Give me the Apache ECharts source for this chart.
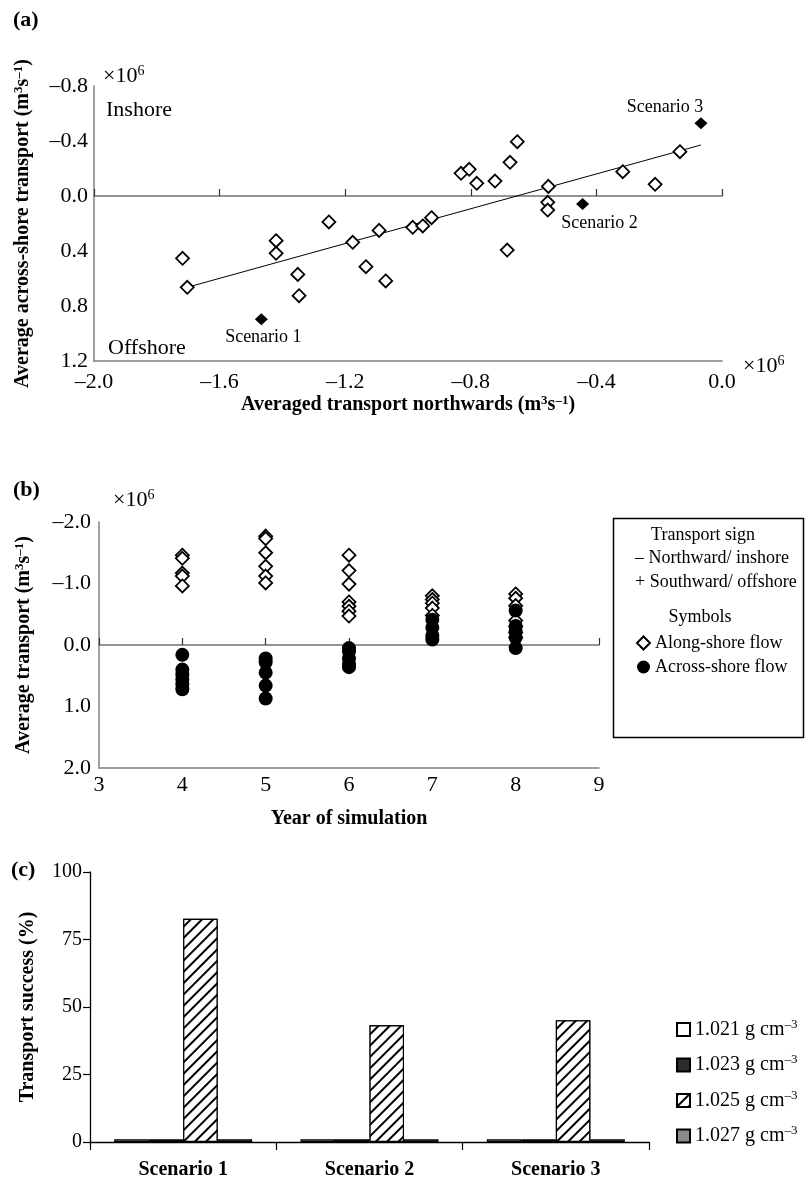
<!DOCTYPE html>
<html>
<head>
<meta charset="utf-8">
<script src="https://cdn.jsdelivr.net/npm/echarts@6/dist/echarts.min.js"></script>
<style>html,body{margin:0;padding:0;background:#fff;}#c{width:805px;height:1185px;}</style>
</head>
<body>
<div id="c"></div>
<script>
// ---------- Panel (a) data: [northward transport, across-shore transport] (x10^6 m3 s-1)
const panelAPoints = [
  [-1.718, 0.453], [-1.703, 0.664], [-1.420, 0.325], [-1.420, 0.417], [-1.351, 0.570],
  [-1.347, 0.725], [-1.252, 0.189], [-1.176, 0.337], [-1.134, 0.514], [-1.092, 0.250],
  [-1.071, 0.618], [-0.985, 0.228], [-0.953, 0.218], [-0.925, 0.158], [-0.831, -0.165],
  [-0.805, -0.194], [-0.781, -0.092], [-0.723, -0.109], [-0.684, 0.393], [-0.675, -0.245],
  [-0.652, -0.395], [-0.555, 0.046], [-0.555, 0.102], [-0.553, -0.070], [-0.316, -0.177],
  [-0.213, -0.085], [-0.134, -0.322]
];
const scenarioNames = ['Scenario 1', 'Scenario 2', 'Scenario 3'];
const scenarioPoints = [[-1.467, 0.897], [-0.444, 0.058], [-0.067, -0.529]];
const trendLine = [[-1.703, 0.664], [-0.067, -0.371]];

// ---------- Panel (b) data: average transport per simulation year (x10^6 m3 s-1)
const years = [4, 5, 6, 7, 8];
const alongShore = [
  [-1.46, -1.41, -1.17, -1.12, -0.96],
  [-1.77, -1.73, -1.50, -1.28, -1.12, -1.01],
  [-1.46, -1.21, -0.99, -0.70, -0.63, -0.55, -0.47],
  [-0.80, -0.74, -0.68, -0.60, -0.48],
  [-0.83, -0.76, -0.64, -0.40, -0.30, -0.20, -0.12]
];
const acrossShore = [
  [0.16, 0.40, 0.48, 0.56, 0.64, 0.72],
  [0.22, 0.28, 0.45, 0.66, 0.87],
  [0.05, 0.10, 0.22, 0.31, 0.36],
  [-0.41, -0.28, -0.15, -0.09],
  [-0.56, -0.31, -0.22, -0.12, 0.05]
];

// ---------- Panel (c) data: transport success (%)
const scenarios = ['Scenario 1', 'Scenario 2', 'Scenario 3'];
const densities = ['1.021', '1.023', '1.025', '1.027'];
const success1021 = [1.0, 1.0, 1.0];
const success1023 = [1.0, 1.0, 1.0];
const success1025 = [82.7, 43.2, 45.1];
const success1027 = [1.0, 1.0, 1.0];

const FONT = '"Liberation Serif", "Times New Roman", serif';
const fmt1 = v => (Math.abs(v) < 1e-9 ? '0.0' : (v < 0 ? '\u2013' : '') + Math.abs(v).toFixed(1));
const supRich = (fs, pad, bold) => ({ sup: { fontSize: fs, fontFamily: FONT, fontWeight: bold ? 'bold' : 'normal', color: '#000', padding: [0, 0, pad, 0] } });
const titleStyle = { fontFamily: FONT, fontSize: 20, fontWeight: 'bold', color: '#000', rich: supRich(13, 9, true) };
const grayLine = { color: '#808080', width: 1.5 };

const chart = echarts.init(document.getElementById('c'), null, { renderer: 'canvas' });

const toPairs = (xs, groups) => {
  const out = [];
  groups.forEach((g, i) => g.forEach(v => out.push([xs[i], v])));
  return out;
};

const labelOffsets = [[2, 18], [17, 19], [-36, -16]];

const option = {
  animation: false,
  backgroundColor: '#fff',
  textStyle: { fontFamily: FONT, color: '#000' },
  grid: [
    { left: 94, top: 86, width: 628, height: 275, outerBoundsMode: 'none' },
    { left: 99, top: 522, width: 500, height: 246, outerBoundsMode: 'none' },
    { left: 90, top: 872, width: 559, height: 270, outerBoundsMode: 'none' }
  ],
  xAxis: [
    { gridIndex: 0, type: 'value', min: -2, max: 0, interval: 0.4, position: 'bottom',
      axisLine: { show: true, onZero: false, lineStyle: grayLine }, axisTick: { show: false }, splitLine: { show: false },
      axisLabel: { formatter: fmt1, fontSize: 22, fontFamily: FONT, color: '#000', margin: 10 },
      name: 'Averaged transport northwards (m{sup|3}s{sup|\u20131})', nameLocation: 'middle', nameGap: 23, nameTextStyle: titleStyle },
    { gridIndex: 0, type: 'value', min: -2, max: 0, interval: 0.4, position: 'bottom',
      axisLine: { show: true, onZero: true, lineStyle: { color: '#707070', width: 1.5 } },
      axisTick: { show: true, inside: true, length: 7, lineStyle: { color: '#333', width: 1.2 } },
      axisLabel: { show: false }, splitLine: { show: false } },
    { gridIndex: 1, type: 'value', min: 3, max: 9, interval: 1, position: 'bottom',
      axisLine: { show: true, onZero: false, lineStyle: grayLine }, axisTick: { show: false }, splitLine: { show: false },
      axisLabel: { formatter: v => String(Math.round(v)), fontSize: 22, fontFamily: FONT, color: '#000', margin: 6 },
      name: 'Year of simulation', nameLocation: 'middle', nameGap: 41, nameTextStyle: titleStyle },
    { gridIndex: 1, type: 'value', min: 3, max: 9, interval: 1, position: 'bottom',
      axisLine: { show: true, onZero: true, lineStyle: { color: '#707070', width: 1.5 } },
      axisTick: { show: true, inside: true, length: 7, lineStyle: { color: '#333', width: 1.2 } },
      axisLabel: { show: false }, splitLine: { show: false } },
    { gridIndex: 2, type: 'category', data: scenarios, position: 'bottom',
      axisLine: { show: true, onZero: false, lineStyle: { color: '#000', width: 1.3 } },
      axisTick: { show: true, inside: false, length: 8, interval: 0, lineStyle: { color: '#000', width: 1.2 } },
      axisLabel: { fontSize: 20, fontWeight: 'bold', fontFamily: FONT, color: '#000', margin: 18, interval: 0 },
      splitLine: { show: false } }
  ],
  yAxis: [
    { gridIndex: 0, type: 'value', inverse: true, min: -0.8, max: 1.2, interval: 0.4, position: 'left',
      axisLine: { show: true, onZero: false, lineStyle: grayLine }, axisTick: { show: false }, splitLine: { show: false },
      axisLabel: { formatter: fmt1, fontSize: 22, fontFamily: FONT, color: '#000', margin: 6 },
      name: 'Average across-shore transport (m{sup|3}s{sup|\u20131})', nameLocation: 'middle', nameGap: 60, nameTextStyle: titleStyle },
    { gridIndex: 1, type: 'value', inverse: true, min: -2, max: 2, interval: 1, position: 'left',
      axisLine: { show: true, onZero: false, lineStyle: grayLine }, axisTick: { show: false }, splitLine: { show: false },
      axisLabel: { formatter: fmt1, fontSize: 22, fontFamily: FONT, color: '#000', margin: 8 },
      name: 'Average transport (m{sup|3}s{sup|\u20131})', nameLocation: 'middle', nameGap: 64, nameTextStyle: titleStyle },
    { gridIndex: 2, type: 'value', min: 0, max: 100, interval: 25, position: 'left',
      axisLine: { show: true, onZero: false, lineStyle: { color: '#000', width: 1.3 } },
      axisTick: { show: true, inside: false, length: 7, lineStyle: { color: '#000', width: 1.2 } },
      splitLine: { show: false },
      axisLabel: { fontSize: 20, fontFamily: FONT, color: '#000', margin: 8 },
      name: 'Transport success (%)', nameLocation: 'middle', nameGap: 52, nameTextStyle: titleStyle }
  ],
  legend: [
    { data: ['Along-shore flow', 'Across-shore flow'], orient: 'vertical', left: 631, top: 629,
      itemWidth: 13, itemHeight: 13, itemGap: 6, selectedMode: false,
      textStyle: { fontSize: 18, fontFamily: FONT, color: '#000' } },
    { data: densities, orient: 'vertical', left: 671, top: 1013, icon: 'rect',
      itemWidth: 13, itemHeight: 13, itemGap: 14, selectedMode: false,
      formatter: n => n + ' g cm{sup|\u20133}',
      textStyle: { fontSize: 20, fontFamily: FONT, color: '#000', rich: supRich(13, 10, false) } }
  ],
  series: [
    { name: 'Trend', type: 'line', xAxisIndex: 0, yAxisIndex: 0, data: trendLine, symbol: 'none',
      lineStyle: { color: '#000', width: 1 }, z: 2, silent: true },
    { name: 'Runs', type: 'scatter', xAxisIndex: 0, yAxisIndex: 0, data: panelAPoints, symbol: 'diamond', symbolSize: 13,
      itemStyle: { color: '#fff', borderColor: '#000', borderWidth: 1.8, opacity: 1 }, z: 3 },
    { name: 'Scenarios', type: 'scatter', xAxisIndex: 0, yAxisIndex: 0, symbol: 'diamond', symbolSize: [13, 12],
      data: scenarioPoints.map((p, i) => ({ name: scenarioNames[i], value: p,
        label: { show: true, position: 'inside', offset: labelOffsets[i], formatter: '{b}', fontSize: 18, fontFamily: FONT, color: '#000', opacity: 1 } })),
      itemStyle: { color: '#000', opacity: 1 }, z: 4 },
    { name: 'Along-shore flow', type: 'scatter', xAxisIndex: 2, yAxisIndex: 1, data: toPairs(years, alongShore),
      symbol: 'diamond', symbolSize: 13, itemStyle: { color: '#fff', borderColor: '#000', borderWidth: 1.8, opacity: 1 }, z: 3 },
    { name: 'Across-shore flow', type: 'scatter', xAxisIndex: 2, yAxisIndex: 1, data: toPairs(years, acrossShore),
      symbol: 'circle', symbolSize: 14, itemStyle: { color: '#000', opacity: 1 }, z: 4 },
    { name: '1.021', type: 'bar', xAxisIndex: 4, yAxisIndex: 2, data: success1021, barWidth: 34.5, barGap: '0%',
      itemStyle: { color: '#fff', borderColor: '#000', borderWidth: 1.2 } },
    { name: '1.023', type: 'bar', xAxisIndex: 4, yAxisIndex: 2, data: success1023, barWidth: 34.5, barGap: '0%',
      itemStyle: { color: '#2b2b2b', borderColor: '#000', borderWidth: 1.2 } },
    { name: '1.025', type: 'bar', xAxisIndex: 4, yAxisIndex: 2, data: success1025, barWidth: 34.5, barGap: '0%',
      itemStyle: { color: '#fff', borderColor: '#000', borderWidth: 1.2,
        decal: { symbol: 'rect', dashArrayX: [1, 0], dashArrayY: [1.6, 5.4], rotation: -Math.PI / 4, color: '#000', backgroundColor: '#fff', symbolSize: 1 } } },
    { name: '1.027', type: 'bar', xAxisIndex: 4, yAxisIndex: 2, data: success1027, barWidth: 34.5, barGap: '0%',
      itemStyle: { color: '#8a8a8a', borderColor: '#000', borderWidth: 1.2 } }
  ],
  graphic: [
    { type: 'text', x: 13, y: 20, style: { text: '(a)', fontSize: 22, fontWeight: 'bold', fontFamily: FONT, fill: '#000', verticalAlign: 'middle' } },
    { type: 'text', x: 13, y: 490, style: { text: '(b)', fontSize: 22, fontWeight: 'bold', fontFamily: FONT, fill: '#000', verticalAlign: 'middle' } },
    { type: 'text', x: 11, y: 870, style: { text: '(c)', fontSize: 22, fontWeight: 'bold', fontFamily: FONT, fill: '#000', verticalAlign: 'middle' } },
    { type: 'text', x: 103, y: 76, style: { text: '\u00d710{sup|6}', fontSize: 22, fontFamily: FONT, fill: '#000', verticalAlign: 'middle', rich: supRich(14, 10, false) } },
    { type: 'text', x: 743, y: 366, style: { text: '\u00d710{sup|6}', fontSize: 22, fontFamily: FONT, fill: '#000', verticalAlign: 'middle', rich: supRich(14, 10, false) } },
    { type: 'text', x: 113, y: 500, style: { text: '\u00d710{sup|6}', fontSize: 22, fontFamily: FONT, fill: '#000', verticalAlign: 'middle', rich: supRich(14, 10, false) } },
    { type: 'text', x: 106, y: 110, style: { text: 'Inshore', fontSize: 22, fontFamily: FONT, fill: '#000', verticalAlign: 'middle' } },
    { type: 'text', x: 108, y: 348, style: { text: 'Offshore', fontSize: 22, fontFamily: FONT, fill: '#000', verticalAlign: 'middle' } },
    { type: 'rect', shape: { x: 613.5, y: 518.5, width: 190, height: 219 }, style: { fill: 'none', stroke: '#000', lineWidth: 1.5 }, z: 10 },
    { type: 'text', x: 703, y: 535, style: { text: 'Transport sign', fontSize: 18, fontFamily: FONT, fill: '#000', align: 'center', verticalAlign: 'middle' } },
    { type: 'text', x: 635, y: 558, style: { text: '\u2013 Northward/ inshore', fontSize: 18, fontFamily: FONT, fill: '#000', verticalAlign: 'middle' } },
    { type: 'text', x: 635, y: 582, style: { text: '+ Southward/ offshore', fontSize: 18, fontFamily: FONT, fill: '#000', verticalAlign: 'middle' } },
    { type: 'text', x: 700, y: 617, style: { text: 'Symbols', fontSize: 18, fontFamily: FONT, fill: '#000', align: 'center', verticalAlign: 'middle' } }
  ]
};
chart.setOption(option);
</script>
</body>
</html>
